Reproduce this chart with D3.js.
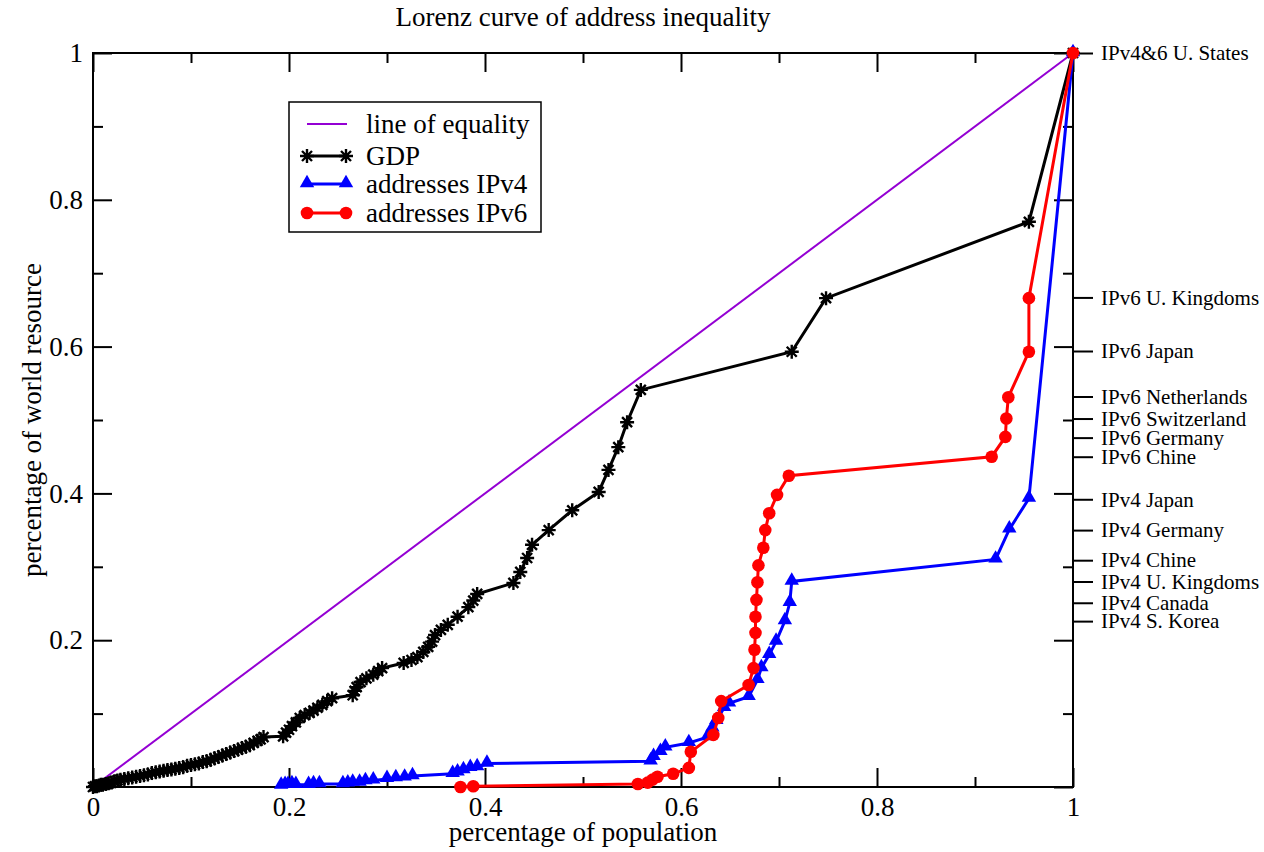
<!DOCTYPE html>
<html>
<head>
<meta charset="utf-8">
<script src="https://cdn.jsdelivr.net/npm/d3@7"></script>
<style>
  html, body { margin: 0; padding: 0; background: #fff; }
  svg { display: block; }
  text { font-family: "Liberation Serif", "Times New Roman", serif; fill: #000; }
</style>
</head>
<body>
<svg id="chart" width="1264" height="852"></svg>
<script>
// ---------- data ----------
const chartTitle = "Lorenz curve of address inequality";
const xAxisTitle = "percentage of population";
const yAxisTitle = "percentage of world resource";

const equality = [[0, 0], [1, 1]];

const gdp = [
  [0.000,0.000],[0.002,0.001],[0.004,0.001],[0.006,0.002],[0.008,0.003],[0.010,0.003],
  [0.013,0.004],[0.016,0.005],[0.019,0.006],[0.022,0.008],[0.025,0.009],[0.028,0.010],
  [0.032,0.011],[0.036,0.012],[0.040,0.013],[0.044,0.014],[0.048,0.015],[0.052,0.016],
  [0.056,0.017],[0.060,0.019],[0.064,0.020],[0.068,0.021],[0.072,0.022],[0.076,0.023],
  [0.080,0.024],[0.084,0.025],[0.088,0.026],[0.092,0.027],[0.096,0.029],[0.100,0.030],
  [0.104,0.031],[0.108,0.032],[0.112,0.034],[0.116,0.035],[0.120,0.037],[0.124,0.039],
  [0.128,0.041],[0.132,0.043],[0.136,0.045],[0.140,0.047],[0.144,0.049],[0.148,0.051],
  [0.152,0.053],[0.156,0.055],[0.160,0.057],[0.164,0.060],[0.168,0.063],[0.171,0.065],
  [0.174,0.068],
  [0.194,0.069],[0.197,0.074],[0.200,0.078],[0.203,0.083],[0.207,0.088],[0.211,0.094],
  [0.216,0.098],[0.221,0.101],[0.225,0.104],[0.229,0.108],[0.234,0.112],[0.239,0.117],
  [0.244,0.121],[0.265,0.125],[0.267,0.131],[0.269,0.136],[0.273,0.143],[0.279,0.148],
  [0.286,0.153],[0.291,0.158],[0.295,0.162],[0.317,0.169],[0.325,0.173],[0.331,0.177],
  [0.337,0.184],[0.342,0.191],[0.346,0.198],[0.349,0.207],[0.355,0.214],[0.362,0.221],
  [0.372,0.232],[0.383,0.245],[0.388,0.254],[0.392,0.263],[0.429,0.278],[0.436,0.293],
  [0.443,0.312],[0.448,0.330],[0.465,0.350],[0.489,0.377],[0.516,0.402],[0.526,0.432],
  [0.536,0.463],[0.545,0.497],[0.559,0.541],[0.713,0.593],[0.748,0.666],[0.955,0.770],
  [1.000,1.000]
];

const ipv4 = [
  [0.192,0.002],[0.196,0.003],[0.199,0.003],[0.203,0.004],[0.207,0.003],[0.220,0.003],
  [0.225,0.004],[0.231,0.004],[0.255,0.004],[0.260,0.005],[0.265,0.006],[0.272,0.006],
  [0.278,0.008],[0.286,0.009],[0.300,0.011],[0.309,0.012],[0.318,0.013],[0.326,0.015],
  [0.367,0.018],[0.372,0.020],[0.378,0.023],[0.385,0.026],[0.392,0.027],[0.402,0.032],
  [0.569,0.035],[0.572,0.041],[0.579,0.048],[0.584,0.054],[0.608,0.060],[0.627,0.068],
  [0.632,0.080],[0.636,0.090],[0.644,0.108],[0.649,0.114],[0.669,0.123],[0.678,0.146],
  [0.682,0.162],[0.690,0.180],[0.697,0.198],[0.706,0.226],[0.711,0.251],[0.713,0.280],
  [0.921,0.310],[0.935,0.351],[0.955,0.393],[1.000,1.000]
];

const ipv6 = [
  [0.375,0.000],[0.388,0.001],[0.556,0.004],[0.566,0.006],[0.571,0.010],[0.576,0.014],
  [0.592,0.018],[0.608,0.026],[0.610,0.048],[0.633,0.071],[0.638,0.094],[0.641,0.117],
  [0.669,0.139],[0.674,0.162],[0.675,0.187],[0.676,0.210],[0.676,0.232],[0.677,0.255],
  [0.678,0.279],[0.679,0.302],[0.684,0.326],[0.686,0.350],[0.690,0.373],[0.698,0.398],
  [0.710,0.424],[0.917,0.450],[0.931,0.477],[0.932,0.502],[0.934,0.531],[0.955,0.593],
  [0.955,0.666],[1.000,1.000]
];

const legendLabels = ["line of equality", "GDP", "addresses IPv4", "addresses IPv6"];

const majorTicks = [0, 0.2, 0.4, 0.6, 0.8, 1];
const minorTicks = [0.1, 0.3, 0.5, 0.7, 0.9];
const xTickLabels = ["0", "0.2", "0.4", "0.6", "0.8", "1"];
const yTickLabels = ["", "0.2", "0.4", "0.6", "0.8", "1"];

const rightLabelNames = [
  "IPv4&6 U. States", "IPv6 U. Kingdoms", "IPv6 Japan", "IPv6 Netherlands",
  "IPv6 Switzerland", "IPv6 Germany", "IPv6 Chine", "IPv4 Japan", "IPv4 Germany",
  "IPv4 Chine", "IPv4 U. Kingdoms", "IPv4 Canada", "IPv4 S. Korea"
];
const rightLabelValues = [
  1.000, 0.667, 0.594, 0.532, 0.502, 0.476, 0.450, 0.392, 0.350, 0.309, 0.280, 0.251, 0.226
];

// ---------- drawing ----------
const svg = d3.select("#chart");
const L = 93, R = 1073, T = 53, B = 787;
const x = d3.scaleLinear().domain([0, 1]).range([L, R]);
const y = d3.scaleLinear().domain([0, 1]).range([B, T]);

const FONT = 27;

function styleAxis(g) {
  g.attr("font-family", null);
  g.select(".domain").remove();
  g.selectAll("line").attr("stroke", "#000").attr("stroke-width", 2);
  g.selectAll("text").style("font-family", '"Liberation Serif", serif').style("font-size", FONT + "px").attr("fill", "#000");
}

// bottom axis: major labelled + minor
svg.append("g").attr("transform", `translate(0,${B})`)
  .call(d3.axisBottom(x).tickValues(majorTicks).tickSize(-19).tickPadding(10)
    .tickFormat((d, i) => xTickLabels[i]))
  .call(styleAxis);
svg.append("g").attr("transform", `translate(0,${B})`)
  .call(d3.axisBottom(x).tickValues(minorTicks).tickSize(-10).tickFormat(""))
  .call(styleAxis);
// top axis
svg.append("g").attr("transform", `translate(0,${T})`)
  .call(d3.axisTop(x).tickValues(majorTicks).tickSize(-19).tickFormat(""))
  .call(styleAxis);
svg.append("g").attr("transform", `translate(0,${T})`)
  .call(d3.axisTop(x).tickValues(minorTicks).tickSize(-10).tickFormat(""))
  .call(styleAxis);
// left axis
svg.append("g").attr("transform", `translate(${L},0)`)
  .call(d3.axisLeft(y).tickValues(majorTicks).tickSize(-19).tickPadding(10)
    .tickFormat((d, i) => yTickLabels[i]))
  .call(styleAxis);
svg.append("g").attr("transform", `translate(${L},0)`)
  .call(d3.axisLeft(y).tickValues(minorTicks).tickSize(-10).tickFormat(""))
  .call(styleAxis);
// right axis inner ticks
svg.append("g").attr("transform", `translate(${R},0)`)
  .call(d3.axisRight(y).tickValues(majorTicks).tickSize(-19).tickFormat(""))
  .call(styleAxis);
svg.append("g").attr("transform", `translate(${R},0)`)
  .call(d3.axisRight(y).tickValues(minorTicks).tickSize(-10).tickFormat(""))
  .call(styleAxis);
// right axis outer labelled ticks
const rightAxis = svg.append("g").attr("transform", `translate(${R},0)`)
  .call(d3.axisRight(y).tickValues(rightLabelValues).tickSize(20).tickPadding(8)
    .tickFormat((d, i) => rightLabelNames[i]))
  .call(styleAxis);
rightAxis.selectAll("text").style("font-size", "21px");

// frame
svg.append("rect").attr("x", L).attr("y", T).attr("width", R - L).attr("height", B - T)
  .attr("fill", "none").attr("stroke", "#000").attr("stroke-width", 2);

// title and axis titles
svg.append("text").attr("x", (L + R) / 2).attr("y", 26).attr("text-anchor", "middle")
  .style("font-size", FONT + "px").text(chartTitle);
svg.append("text").attr("x", (L + R) / 2).attr("y", 841).attr("text-anchor", "middle")
  .style("font-size", FONT + "px").text(xAxisTitle);
svg.append("text").attr("transform", `translate(41,${(T + B) / 2}) rotate(-90)`)
  .attr("text-anchor", "middle").style("font-size", FONT + "px").text(yAxisTitle);

const line = d3.line().x(d => x(d[0])).y(d => y(d[1]));

// marker helpers
function asterisk(g, cx, cy) {
  const a = 7, b = 5;
  const p = `M${cx - a},${cy}L${cx + a},${cy}M${cx},${cy - a}L${cx},${cy + a}` +
            `M${cx - b},${cy - b}L${cx + b},${cy + b}M${cx - b},${cy + b}L${cx + b},${cy - b}`;
  g.append("path").attr("d", p).attr("stroke", "#000").attr("stroke-width", 2.4).attr("fill", "none");
}
const triSym = d3.symbol().type(d3.symbolTriangle).size(90);

// equality line
svg.append("path").datum(equality).attr("d", line)
  .attr("fill", "none").attr("stroke", "#9400d3").attr("stroke-width", 2);

// GDP
svg.append("path").datum(gdp).attr("d", line)
  .attr("fill", "none").attr("stroke", "#000").attr("stroke-width", 3);
const gG = svg.append("g");
gdp.forEach(d => asterisk(gG, x(d[0]), y(d[1])));

// IPv4
svg.append("path").datum(ipv4).attr("d", line)
  .attr("fill", "none").attr("stroke", "#0000ff").attr("stroke-width", 3);
svg.append("g").selectAll("path").data(ipv4).join("path")
  .attr("transform", d => `translate(${x(d[0])},${y(d[1]) - 1})`)
  .attr("d", triSym).attr("fill", "#0000ff");

// IPv6
svg.append("path").datum(ipv6).attr("d", line)
  .attr("fill", "none").attr("stroke", "#ff0000").attr("stroke-width", 3);
svg.append("g").selectAll("circle").data(ipv6).join("circle")
  .attr("cx", d => x(d[0])).attr("cy", d => y(d[1])).attr("r", 6.3).attr("fill", "#ff0000");

// legend
const lg = svg.append("g");
lg.append("rect").attr("x", 289).attr("y", 102).attr("width", 252).attr("height", 130)
  .attr("fill", "#fff").attr("stroke", "#000").attr("stroke-width", 1.5);
const legY = [124, 156, 184, 213];
const legColors = ["#9400d3", "#000", "#0000ff", "#ff0000"];
legendLabels.forEach((lab, i) => {
  const yy = legY[i];
  lg.append("line").attr("x1", 307).attr("x2", i === 0 ? 347 : 346)
    .attr("y1", yy).attr("y2", yy).attr("stroke", legColors[i]).attr("stroke-width", i === 0 ? 2 : 3);
  if (i === 1) { asterisk(lg, 307, yy); asterisk(lg, 346, yy); }
  if (i === 2) {
    [307, 346].forEach(cx => lg.append("path").attr("transform", `translate(${cx},${yy - 1})`)
      .attr("d", triSym).attr("fill", "#0000ff"));
  }
  if (i === 3) {
    [307, 346].forEach(cx => lg.append("circle").attr("cx", cx).attr("cy", yy).attr("r", 6.3).attr("fill", "#ff0000"));
  }
  lg.append("text").attr("x", 366).attr("y", yy).attr("dy", "0.33em")
    .style("font-size", FONT + "px").text(lab);
});
</script>
</body>
</html>
